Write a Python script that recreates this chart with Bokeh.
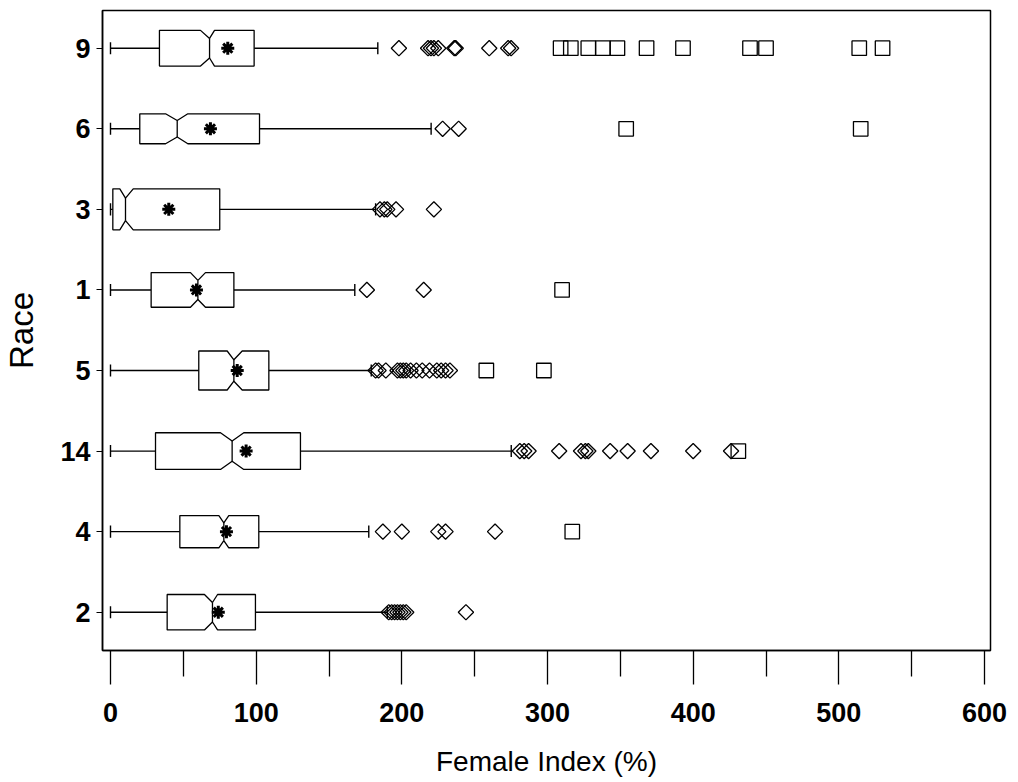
import numpy as np
from bokeh.plotting import figure
from bokeh.models import Range1d, FixedTicker
from bokeh.embed import file_html
from bokeh.resources import INLINE

# Categories, top to bottom
races = ["9", "6", "3", "1", "5", "14", "4", "2"]

whisker_lo = [0, 0, 0, 0, 0, 0, 0, 0]
q1 = [33.6, 20.1, 1.6, 27.9, 60.6, 30.9, 47.6, 38.9]
notch_lo = [61.8, 37.8, 6.4, 54.9, 80.1, 75.5, 74.4, 64.5]
median = [68.0, 45.8, 10.3, 60.0, 84.7, 83.5, 77.8, 70.0]
notch_hi = [71.4, 53.1, 15.6, 65.2, 90.4, 91.5, 81.2, 73.5]
q3 = [98.6, 102.3, 75.0, 84.7, 108.7, 130.4, 101.8, 99.5]
mean = [80.5, 68.6, 40.0, 59.0, 87.0, 93.1, 79.6, 74.0]
whisker_hi = [183.5, 220.1, 182.0, 167.7, 179.0, 275.1, 177.3, 190.0]
box_rel_width = [0.443, 0.372, 0.509, 0.43, 0.484, 0.455, 0.40, 0.44]

# Outliers (diamonds) and far outliers (squares), per race
outliers = {
    "9": [198, 218, 220, 222, 225, 236, 237, 260, 273, 275],
    "6": [228, 239],
    "3": [185, 188, 190, 196, 222],
    "1": [176, 215],
    "5": [182, 184, 189, 197, 199, 201, 203, 206, 210, 214, 219, 224, 227, 230, 233],
    "14": [281, 284, 287, 308, 323, 326, 328, 343, 355, 371, 400, 426],
    "4": [187, 200, 225, 230, 264],
    "2": [191, 193, 195, 197, 199, 201, 203, 244],
}
far_outliers = {
    "9": [309, 316, 328, 338, 348, 368, 393, 439, 450, 514, 530],
    "6": [354, 515],
    "3": [],
    "1": [310],
    "5": [258, 297.5],
    "14": [431],
    "4": [317],
    "2": [],
}

x_ticks = [0, 100, 200, 300, 400, 500, 600]
x_minor = [50, 150, 250, 350, 450, 550]

n = len(races)
ypos = np.arange(n, 0, -1).astype(float)

FONT = "Liberation Sans"

p = figure(frame_width=888, frame_height=640,
           x_range=Range1d(-5.49, 604.1), y_range=Range1d(0.525, 8.468),
           output_backend="svg", toolbar_location=None,
           min_border_left=102, min_border_right=20, min_border_top=10, min_border_bottom=0)

p.outline_line_color = "black"
p.outline_line_width = 1.5
p.xgrid.visible = False
p.ygrid.visible = False
p.background_fill_color = "white"
p.border_fill_color = "white"

# whiskers
p.segment(x0=whisker_lo, y0=ypos, x1=q1, y1=ypos, line_color="black", line_width=1.4)
p.segment(x0=q3, y0=ypos, x1=whisker_hi, y1=ypos, line_color="black", line_width=1.4)
cap = 0.075
p.segment(x0=whisker_lo, y0=ypos - cap, x1=whisker_lo, y1=ypos + cap, line_color="black", line_width=1.4)
p.segment(x0=whisker_hi, y0=ypos - cap, x1=whisker_hi, y1=ypos + cap, line_color="black", line_width=1.4)

# notched boxes
xs, ys, mh = [], [], []
for i in range(n):
    y = ypos[i]
    h = box_rel_width[i] / 2
    hn = h * 0.55
    mh.append(hn)
    xs.append([q1[i], notch_lo[i], median[i], notch_hi[i], q3[i],
               q3[i], notch_hi[i], median[i], notch_lo[i], q1[i]])
    ys.append([y + h, y + h, y + hn, y + h, y + h,
               y - h, y - h, y - hn, y - h, y - h])
p.patches(xs, ys, fill_color="white", line_color="black", line_width=1.3)
mh = np.array(mh)
p.segment(x0=median, y0=ypos - mh, x1=median, y1=ypos + mh, line_color="black", line_width=1.3)

# means
p.scatter(x=mean, y=ypos, marker="asterisk", size=13, line_color="black", line_width=3)

# outliers
ox, oy, fx, fy = [], [], [], []
for i, r in enumerate(races):
    for v in outliers[r]:
        ox.append(v); oy.append(ypos[i])
    for v in far_outliers[r]:
        fx.append(v); fy.append(ypos[i])
p.scatter(x=ox, y=oy, marker="square", angle=np.pi / 4, size=10.8,
          fill_color=None, line_color="black", line_width=1.3)
p.scatter(x=fx, y=fy, marker="square", size=14.5,
          fill_color=None, line_color="black", line_width=1.3)

# x axis
xa = p.xaxis[0]
xa.ticker = FixedTicker(ticks=x_ticks, minor_ticks=x_minor)
xa.major_tick_out = 34
xa.major_tick_in = 0
xa.minor_tick_out = 26
xa.minor_tick_in = 0
xa.major_tick_line_width = 1.3
xa.minor_tick_line_width = 1.3
xa.axis_line_width = 1.5
xa.major_label_standoff = 18
xa.major_label_text_font = FONT
xa.major_label_text_font_style = "bold"
xa.major_label_text_font_size = "27px"
xa.major_label_text_color = "black"
xa.axis_label = "Female Index (%)"
xa.axis_label_text_font = FONT
xa.axis_label_text_font_style = "normal"
xa.axis_label_text_font_size = "28px"
xa.axis_label_text_color = "black"
xa.axis_label_standoff = 21

# y axis
ya = p.yaxis[0]
ya.ticker = FixedTicker(ticks=list(ypos), minor_ticks=[])
ya.major_label_overrides = {float(ypos[i]): races[i] for i in range(n)}
ya.major_tick_out = 6
ya.major_tick_in = 0
ya.minor_tick_out = 0
ya.minor_tick_in = 0
ya.axis_line_width = 1.5
ya.major_label_standoff = 6
ya.major_label_text_font = FONT
ya.major_label_text_font_style = "bold"
ya.major_label_text_font_size = "27px"
ya.major_label_text_color = "black"
ya.axis_label = "Race"
ya.axis_label_text_font = FONT
ya.axis_label_text_font_style = "normal"
ya.axis_label_text_font_size = "33px"
ya.axis_label_text_color = "black"
ya.axis_label_standoff = 17

open("out.html", "w").write(file_html(p, INLINE))
